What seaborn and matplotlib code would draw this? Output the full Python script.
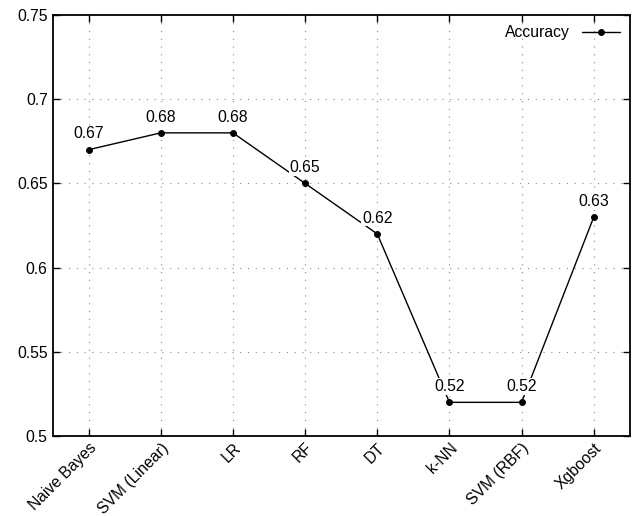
import matplotlib
matplotlib.use("Agg")
import matplotlib.pyplot as plt
import seaborn as sns
import pandas as pd

models = ["Naive Bayes", "SVM (Linear)", "LR", "RF", "DT", "k-NN", "SVM (RBF)", "Xgboost"]
accuracy = [0.67, 0.68, 0.68, 0.65, 0.62, 0.52, 0.52, 0.63]
y_ticks = [0.5, 0.55, 0.6, 0.65, 0.7, 0.75]
y_tick_labels = ["0.5", "0.55", "0.6", "0.65", "0.7", "0.75"]

sns.set_style("ticks")
plt.rcParams["font.family"] = ["Liberation Sans", "DejaVu Sans"]
plt.rcParams["text.color"] = "black"

FS = 11.3

df = pd.DataFrame({"pos": range(len(models)), "Accuracy": accuracy})

fig = plt.figure(figsize=(6.33, 5.16), dpi=100)
ax = fig.add_axes([0.083, 0.155, 0.912, 0.816])

sns.lineplot(data=df, x="pos", y="Accuracy", ax=ax, color="black", marker="o",
             markersize=4.2, markeredgecolor="black", linewidth=1.0, label="Accuracy")

for x, v in zip(df["pos"], accuracy):
    ax.annotate(f"{v:.2f}", (x, v), textcoords="offset points", xytext=(0, 6),
                ha="center", va="bottom", fontsize=FS, color="black",
                bbox=dict(boxstyle="square,pad=0.05", facecolor="white", edgecolor="none"))

ax.set_xlim(-0.5, len(models) - 0.5)
ax.set_ylim(0.5, 0.75)
ax.set_xticks(range(len(models)))
ax.set_xticklabels(models, rotation=45, ha="right", rotation_mode="anchor", fontsize=FS)
ax.set_yticks(y_ticks)
ax.set_yticklabels(y_tick_labels, fontsize=FS)
ax.set_xlabel("")
ax.set_ylabel("")

ax.grid(True, linestyle=(0, (1, 6)), color="#8a8a8a", linewidth=0.8)
ax.tick_params(direction="in", length=5, width=1, top=True, right=True,
               colors="black", labelcolor="black")
ax.tick_params(axis="x", pad=3)
for s in ax.spines.values():
    s.set_visible(True)
    s.set_linewidth(1.3)
    s.set_color("black")

leg = ax.legend(loc="upper right", frameon=False, markerfirst=False, fontsize=FS,
                handlelength=2.4, borderaxespad=0.25)
for t in leg.get_texts():
    t.set_color("black")

fig.savefig("out.png", dpi=100)
